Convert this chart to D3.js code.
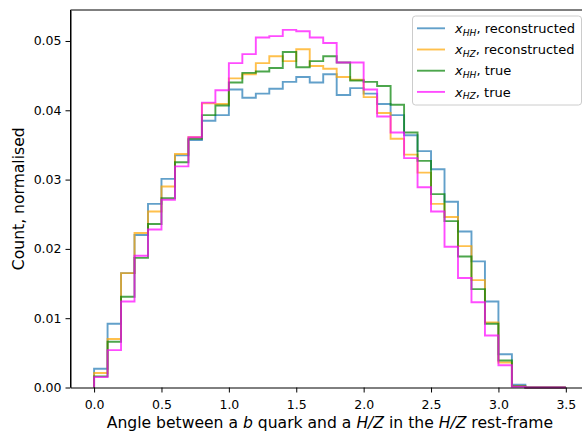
<!DOCTYPE html>
<html>
<head>
<meta charset="utf-8">
<script src="https://cdn.jsdelivr.net/npm/d3@7"></script>
<style>
  html, body { margin: 0; padding: 0; background: #fff; }
  svg { display: block; font-family: "DejaVu Sans", sans-serif; }
</style>
</head>
<body>
<svg id="chart" width="582" height="432"></svg>
<script>
// Bin edges of the angle histogram (35 bins of width 0.1)
const binEdges = [0.0, 0.1, 0.2, 0.3, 0.4, 0.5, 0.6, 0.7, 0.8, 0.9, 1.0, 1.1, 1.2,
  1.3, 1.4, 1.5, 1.6, 1.7, 1.8, 1.9, 2.0, 2.1, 2.2, 2.3, 2.4, 2.5, 2.6, 2.7, 2.8,
  2.9, 3.0, 3.1, 3.2, 3.3, 3.4, 3.5];

// Normalised counts per bin
const hhReco = [0.0027, 0.0092, 0.0165, 0.0220, 0.0265, 0.0301, 0.0335, 0.0357, 0.0385,
  0.0393, 0.0430, 0.0418, 0.0424, 0.0431, 0.0441, 0.0448, 0.0440, 0.0452, 0.0422, 0.0432,
  0.0424, 0.0409, 0.0393, 0.0364, 0.0341, 0.0315, 0.0268, 0.0225, 0.0182, 0.0124, 0.0048,
  0.0004, 0, 0, 0];
const hzReco = [0.0021, 0.0070, 0.0165, 0.0223, 0.0254, 0.0290, 0.0337, 0.0361, 0.0410,
  0.0409, 0.0446, 0.0452, 0.0468, 0.0478, 0.0471, 0.0488, 0.0464, 0.0460, 0.0448, 0.0444,
  0.0419, 0.0396, 0.0359, 0.0336, 0.0310, 0.0265, 0.0246, 0.0204, 0.0155, 0.0094, 0.0036,
  0.0002, 0, 0, 0];
const hhTrue = [0.0016, 0.0066, 0.0131, 0.0187, 0.0236, 0.0273, 0.0325, 0.0359, 0.0393,
  0.0407, 0.0440, 0.0454, 0.0456, 0.0461, 0.0484, 0.0462, 0.0471, 0.0478, 0.0469, 0.0443,
  0.0441, 0.0435, 0.0408, 0.0368, 0.0327, 0.0279, 0.0240, 0.0189, 0.0142, 0.0092, 0.0039,
  0.0002, 0, 0, 0];
const hzTrue = [0.0015, 0.0054, 0.0124, 0.0190, 0.0228, 0.0271, 0.0319, 0.0361, 0.0411,
  0.0429, 0.0468, 0.0481, 0.0505, 0.0507, 0.0516, 0.0514, 0.0505, 0.0497, 0.0469, 0.0469,
  0.0430, 0.0391, 0.0368, 0.0331, 0.0289, 0.0254, 0.0203, 0.0158, 0.0123, 0.0075, 0.0032,
  0.0001, 0, 0, 0];

const xTicks = [0.0, 0.5, 1.0, 1.5, 2.0, 2.5, 3.0, 3.5];
const yTicks = [0.00, 0.01, 0.02, 0.03, 0.04, 0.05];

const series = [
  { sub: "HH", text: ", reconstructed", values: hhReco, color: "#1f77b4" },
  { sub: "HZ", text: ", reconstructed", values: hzReco, color: "#ffa500" },
  { sub: "HH", text: ", true", values: hhTrue, color: "#008000" },
  { sub: "HZ", text: ", true", values: hzTrue, color: "#ff00ff" }
];

const svg = d3.select("#chart");
const plotLeft = 70.5, plotRight = 589.4, plotTop = 10, plotBottom = 387.5;

const x = d3.scaleLinear().domain([-0.175, 3.675]).range([plotLeft, plotRight]);
const y = d3.scaleLinear().domain([0, 0.05447]).range([plotBottom, plotTop]);

// Step outlines
const plot = svg.append("g");
series.forEach(s => {
  const pts = [[binEdges[0], 0]];
  s.values.forEach((v, i) => {
    pts.push([binEdges[i], v]);
    pts.push([binEdges[i + 1], v]);
  });
  pts.push([binEdges[binEdges.length - 1], 0]);
  plot.append("path")
    .attr("d", d3.line().x(d => x(d[0])).y(d => y(d[1]))(pts))
    .attr("fill", "none")
    .attr("stroke", s.color)
    .attr("stroke-opacity", 0.7)
    .attr("stroke-width", 1.9)
    .attr("stroke-linejoin", "miter");
});

// Axes
const xAxis = svg.append("g")
  .attr("transform", `translate(0,${plotBottom})`)
  .call(d3.axisBottom(x).tickValues(xTicks).tickFormat(d3.format(".1f"))
    .tickSize(5).tickPadding(8).tickSizeOuter(0));
const yAxis = svg.append("g")
  .attr("transform", `translate(${plotLeft},0)`)
  .call(d3.axisLeft(y).tickValues(yTicks).tickFormat(d3.format(".2f"))
    .tickSize(5).tickPadding(4).tickSizeOuter(0));
[xAxis, yAxis].forEach(g => {
  g.selectAll("text").attr("font-size", 12.5).attr("fill", "#000")
    .attr("font-family", "DejaVu Sans");
  g.selectAll("line").attr("stroke", "#000").attr("stroke-width", 1);
  g.select(".domain").attr("stroke", "#000").attr("stroke-width", 1);
});
// top and left spines
svg.append("line").attr("x1", plotLeft).attr("x2", plotRight)
  .attr("y1", plotTop).attr("y2", plotTop)
  .attr("stroke", "#000").attr("stroke-width", 1);
svg.append("line").attr("x1", plotLeft).attr("x2", plotLeft)
  .attr("y1", plotTop).attr("y2", plotBottom)
  .attr("stroke", "#000").attr("stroke-width", 1);

// Axis titles
const xl = svg.append("text")
  .attr("x", (plotLeft + plotRight) / 2).attr("y", 427.5)
  .attr("text-anchor", "middle").attr("font-size", 15.6);
xl.append("tspan").text("Angle between a ");
xl.append("tspan").attr("font-style", "italic").text("b");
xl.append("tspan").text(" quark and a ");
xl.append("tspan").attr("font-style", "italic").text("H/Z");
xl.append("tspan").text(" in the ");
xl.append("tspan").attr("font-style", "italic").text("H/Z");
xl.append("tspan").text(" rest-frame");

svg.append("text")
  .attr("transform", `translate(24,${(plotTop + plotBottom) / 2}) rotate(-90)`)
  .attr("text-anchor", "middle").attr("font-size", 15.6)
  .text("Count, normalised");

// Legend
const lg = svg.append("g");
lg.append("rect")
  .attr("x", 412.5).attr("y", 16).attr("width", 169).attr("height", 89)
  .attr("rx", 3).attr("fill", "#fff").attr("fill-opacity", 0.8)
  .attr("stroke", "#cccccc").attr("stroke-width", 1);
series.forEach((s, i) => {
  const cy = 28.3 + i * 21.2;
  lg.append("line").attr("x1", 417).attr("x2", 445).attr("y1", cy).attr("y2", cy)
    .attr("stroke", s.color).attr("stroke-opacity", 0.7).attr("stroke-width", 1.9);
  const t = lg.append("text").attr("x", 455).attr("y", cy + 4.6).attr("font-size", 13);
  t.append("tspan").attr("font-style", "italic").text("x");
  t.append("tspan").attr("font-style", "italic").attr("font-size", 9.1)
    .attr("dy", 2.7).text(s.sub);
  t.append("tspan").attr("dy", -2.7).text(s.text);
});
</script>
</body>
</html>
